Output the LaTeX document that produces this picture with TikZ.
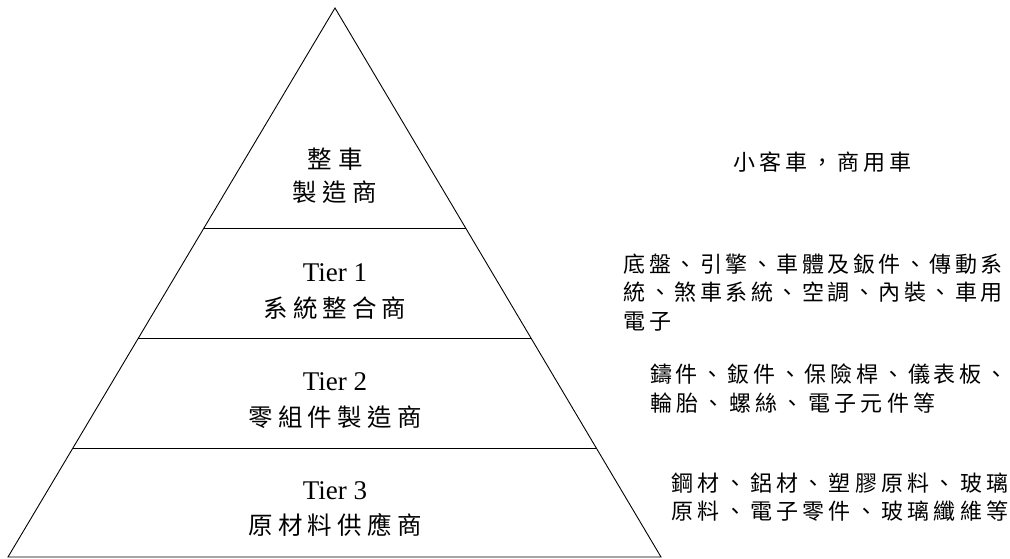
\documentclass[tikz,border=0pt]{standalone}
\usepackage{fontspec}
\setmainfont{Liberation Serif}
\newfontfamily\cjk{Noto Sans CJK TC}
\usetikzlibrary{calc}
\def\cellw{26bp}
\def\cellloop#1{\ifx#1\relax\else\hbox to \cellw{\hss#1\hss}\expandafter\cellloop\fi}
\newcommand\cells[2]{\def\cellw{#1}\cellloop#2\relax}
\begin{document}
\begin{tikzpicture}[x=1bp,y=-1bp,
  pyr/.style={draw=black,line width=0.9bp,line join=miter},
  tierlbl/.style={font=\fontsize{27bp}{30bp}\selectfont,inner sep=0pt,anchor=base},
  pyrcjk/.style={font=\cjk\fontsize{24.5bp}{28bp}\selectfont,inner sep=0pt,anchor=base},
  desc/.style={font=\cjk\fontsize{22bp}{26bp}\selectfont,inner sep=0pt,anchor=base west}]
\useasboundingbox (0,0) rectangle (1010,559);
% pyramid
\coordinate (apex) at (335,8);
\coordinate (bl) at (8,557);
\coordinate (br) at (661,557);
\draw[pyr] (apex) -- (bl) -- (br) -- cycle;
\coordinate (l1) at ($(apex)!0.40073!(bl)$);
\coordinate (r1) at ($(apex)!0.40073!(br)$);
\coordinate (l2) at ($(apex)!0.60109!(bl)$);
\coordinate (r2) at ($(apex)!0.60109!(br)$);
\coordinate (l3) at ($(apex)!0.80146!(bl)$);
\coordinate (r3) at ($(apex)!0.80146!(br)$);
\draw[pyr] (l1) -- (r1);
\draw[pyr] (l2) -- (r2);
\draw[pyr] (l3) -- (r3);
% pyramid labels
\node[pyrcjk] (oem1) at (335,168.5) {\cells{31bp}{整車}};
\node[pyrcjk] (oem2) at (335,202) {\cells{30bp}{製造商}};
\node[tierlbl] (t1) at (335,281.7) {Tier 1};
\node[pyrcjk] (t1c) at (335,317.8) {\cells{29.6bp}{系統整合商}};
\node[tierlbl] (t2) at (335,390) {Tier 2};
\node[pyrcjk] (t2c) at (335,426) {\cells{29.8bp}{零組件製造商}};
\node[tierlbl] (t3) at (335,499.5) {Tier 3};
\node[pyrcjk] (t3c) at (335,534.5) {\cells{29.8bp}{原材料供應商}};
% descriptions
\node[desc] (d0) at (731,170.5) {\cells{26.1bp}{小客車，商用車}};
\node[desc] (d1a) at (622,272.5) {\cells{25.5bp}{底盤、引擎、車體及鈑件、傳動系}};
\node[desc] (d1b) at (622,301) {\cells{25.5bp}{統、煞車系統、空調、內裝、車用}};
\node[desc] (d1c) at (622,329.5) {\cells{25.5bp}{電子}};
\node[desc] (d2a) at (648,382.5) {\cells{25.8bp}{鑄件、鈑件、保險桿、儀表板、}};
\node[desc] (d2b) at (648,411) {\cells{26.3bp}{輪胎、螺絲、電子元件等}};
\node[desc] (d3a) at (669.5,491) {\cells{26.2bp}{鋼材、鋁材、塑膠原料、玻璃}};
\node[desc] (d3b) at (669.5,519.5) {\cells{26.2bp}{原料、電子零件、玻璃纖維等}};
\end{tikzpicture}
\end{document}
